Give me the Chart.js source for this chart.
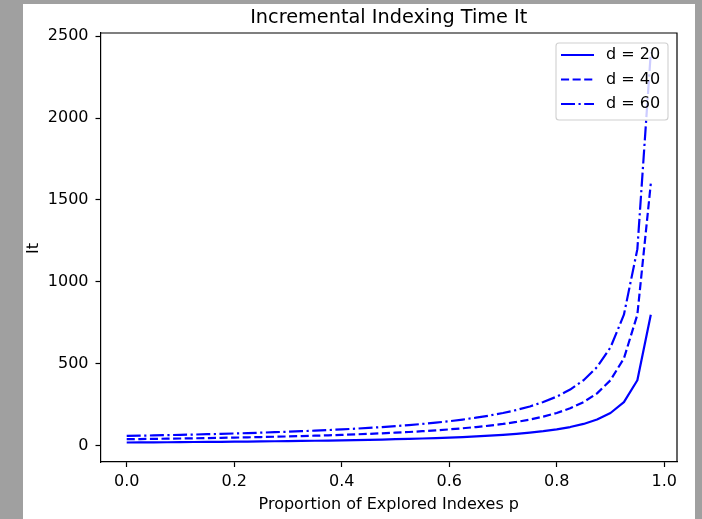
<!DOCTYPE html>
<html>
<head>
<meta charset="utf-8">
<script src="https://cdn.jsdelivr.net/npm/chart.js@4/dist/chart.umd.min.js"></script>
<style>
  html, body { margin: 0; padding: 0; background: #a0a0a0; }
  #wrap { position: relative; width: 702px; height: 519px; }
  canvas { position: absolute; left: 0; top: 0; }
</style>
</head>
<body>
<div id="wrap"><canvas id="chart" width="702" height="519"></canvas></div>
<script>
// ── DATA ──
const P = [0, 0.025, 0.05, 0.075, 0.1, 0.125, 0.15, 0.175, 0.2, 0.225,
           0.25, 0.275, 0.3, 0.325, 0.35, 0.375, 0.4, 0.425, 0.45, 0.475,
           0.5, 0.525, 0.55, 0.575, 0.6, 0.625, 0.65, 0.675, 0.7, 0.725,
           0.75, 0.775, 0.8, 0.825, 0.85, 0.875, 0.9, 0.925, 0.95, 0.975];
const IT_D20 = [20, 20.5, 21.1, 21.6, 22.2, 22.9, 23.5, 24.2, 25, 25.8,
                26.7, 27.6, 28.6, 29.6, 30.8, 32, 33.3, 34.8, 36.4, 38.1,
                40, 42.1, 44.4, 47.1, 50, 53.3, 57.1, 61.5, 66.7, 72.7,
                80, 88.9, 100, 114.3, 133.3, 160, 200, 266.7, 400, 800];
const IT_D40 = [40, 41, 42.1, 43.2, 44.4, 45.7, 47.1, 48.5, 50, 51.6,
                53.3, 55.2, 57.1, 59.3, 61.5, 64, 66.7, 69.6, 72.7, 76.2,
                80, 84.2, 88.9, 94.1, 100, 106.7, 114.3, 123.1, 133.3, 145.5,
                160, 177.8, 200, 228.6, 266.7, 320, 400, 533.3, 800, 1600];
const IT_D60 = [60, 61.5, 63.2, 64.9, 66.7, 68.6, 70.6, 72.7, 75, 77.4,
                80, 82.8, 85.7, 88.9, 92.3, 96, 100, 104.3, 109.1, 114.3,
                120, 126.3, 133.3, 141.2, 150, 160, 171.4, 184.6, 200, 218.2,
                240, 266.7, 300, 342.9, 400, 480, 600, 800, 1200, 2400];
const SERIES_LABELS = ['d = 20', 'd = 40', 'd = 60'];
const X_TICKS = [0, 0.2, 0.4, 0.6, 0.8, 1.0];
const Y_TICKS = [0, 500, 1000, 1500, 2000, 2500];

const TITLE  = 'Incremental Indexing Time It';
const XLABEL = 'Proportion of Explored Indexes p';
const YLABEL = 'It';

const FONT = 'DejaVu Sans';
const BLUE = '#0000ff';
const LW   = 2.2;
const DASHES = [[], [8.1, 3.5], [14, 3.5, 2.2, 3.5]];

const toPoints = ys => P.map((p, i) => ({ x: p, y: ys[i] }));

// ── FIGURE DECORATIONS: white figure, spines, title, labels, legend ──
const figurePlugin = {
  id: 'figure',
  beforeDraw(chart) {
    const ctx = chart.ctx;
    ctx.save();
    ctx.fillStyle = '#ffffff';
    ctx.fillRect(23, 4, 672, 515);
    ctx.restore();
  },
  afterDraw(chart) {
    const ctx = chart.ctx;
    const a = chart.chartArea;
    ctx.save();
    // top + right spines
    ctx.strokeStyle = '#000';
    ctx.lineWidth = 1.2;
    ctx.beginPath();
    ctx.moveTo(a.left, a.top); ctx.lineTo(a.right, a.top); ctx.lineTo(a.right, a.bottom);
    ctx.stroke();

    // title
    const cx = (a.left + a.right) / 2;
    ctx.fillStyle = '#000';
    ctx.textAlign = 'center';
    ctx.textBaseline = 'alphabetic';
    ctx.font = `19.3px "${FONT}"`;
    ctx.fillText(TITLE, cx, 23);

    // x label
    ctx.font = `16px "${FONT}"`;
    ctx.fillText(XLABEL, cx, 509);

    // y label
    ctx.save();
    ctx.translate(38, (a.top + a.bottom) / 2 + 1);
    ctx.rotate(-Math.PI / 2);
    ctx.fillText(YLABEL, 0, 0);
    ctx.restore();

    // legend
    const lx = 556, ly = 43, lw = 112, lh = 77, r = 3;
    ctx.beginPath();
    ctx.roundRect(lx, ly, lw, lh, r);
    ctx.fillStyle = 'rgba(255,255,255,0.8)';
    ctx.fill();
    ctx.strokeStyle = '#d0d0d0';
    ctx.lineWidth = 1.1;
    ctx.stroke();

    ctx.textAlign = 'left';
    ctx.textBaseline = 'middle';
    chart.data.datasets.forEach((ds, i) => {
      const y = 55 + i * 24.5;
      ctx.strokeStyle = ds.borderColor;
      ctx.lineWidth = ds.borderWidth;
      ctx.setLineDash(ds.borderDash);
      ctx.beginPath();
      ctx.moveTo(561, y); ctx.lineTo(594, y);
      ctx.stroke();
      ctx.setLineDash([]);
      ctx.fillStyle = '#000';
      ctx.fillText(ds.label, 606, y);
    });
    ctx.restore();
  }
};

// ── CHART ──
const tickFont = { family: FONT, size: 16 };

new Chart(document.getElementById('chart'), {
  type: 'line',
  data: {
    datasets: [IT_D20, IT_D40, IT_D60].map((ys, i) => ({
      label: SERIES_LABELS[i],
      data: toPoints(ys),
      borderColor: BLUE,
      borderWidth: LW,
      borderDash: DASHES[i],
      borderJoinStyle: 'round',
      pointRadius: 0,
      tension: 0,
      fill: false,
    }))
  },
  options: {
    responsive: false,
    animation: false,
    layout: { padding: { left: 0, right: 25, top: 33, bottom: 0 } },
    plugins: { legend: { display: false }, title: { display: false }, tooltip: { enabled: false } },
    scales: {
      x: {
        type: 'linear',
        min: -0.04875, max: 1.02375,
        afterBuildTicks: s => { s.ticks = X_TICKS.map(v => ({ value: v })); },
        afterFit: s => { s.height = 57; },
        ticks: { callback: v => v.toFixed(1), font: tickFont, color: '#000', padding: 5, maxRotation: 0, autoSkip: false },
        grid: { drawOnChartArea: false, drawTicks: true, tickLength: 5, tickColor: '#000', tickWidth: 1.2 },
        border: { display: true, color: '#000', width: 1.2 },
      },
      y: {
        type: 'linear',
        min: -99, max: 2519,
        afterBuildTicks: s => { s.ticks = Y_TICKS.map(v => ({ value: v })); },
        afterFit: s => { s.width = 100.5; },
        ticks: { callback: v => String(v), font: tickFont, color: '#000', padding: 7, autoSkip: false },
        grid: { drawOnChartArea: false, drawTicks: true, tickLength: 5, tickColor: '#000', tickWidth: 1.2 },
        border: { display: true, color: '#000', width: 1.2 },
      }
    }
  },
  plugins: [figurePlugin]
});
</script>
</body>
</html>
